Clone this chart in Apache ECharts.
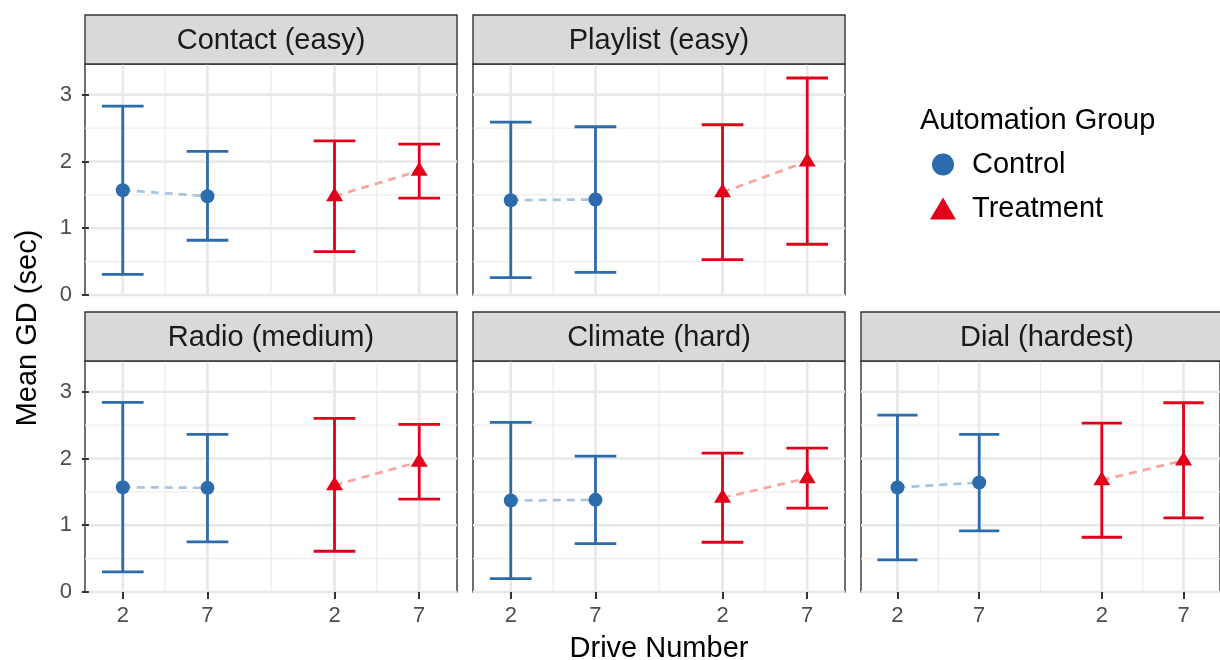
<!DOCTYPE html>
<html><head><meta charset="utf-8">
<script src="https://cdn.jsdelivr.net/npm/echarts@6/dist/echarts.min.js"></script>
<style>html,body{margin:0;padding:0;background:#fff}#chart{width:1220px;height:660px}</style>
</head><body><div id="chart"></div>
<script>
// ---------------- data ----------------
const facets = ['Contact (easy)', 'Playlist (easy)', 'Radio (medium)', 'Climate (hard)', 'Dial (hardest)'];
const groups = ['Control', 'Treatment'];
const drives = [2, 7];
const groupShift = [0, 12.5];          // where each group's block sits on the drive axis
const xTickLabels = ['2', '7', '2', '7'];
const yTicks = [0, 1, 2, 3];

const controlMean = [[1.57, 1.48], [1.42, 1.43], [1.57, 1.56], [1.37, 1.38], [1.565, 1.64]];
const controlLow  = [[0.31, 0.82], [0.26, 0.34], [0.30, 0.75], [0.20, 0.725], [0.48, 0.915]];
const controlHigh = [[2.83, 2.15], [2.59, 2.52], [2.84, 2.36], [2.54, 2.035], [2.65, 2.36]];
const treatMean   = [[1.48, 1.86], [1.54, 2.00], [1.60, 1.95], [1.41, 1.705], [1.675, 1.97]];
const treatLow    = [[0.65, 1.45], [0.53, 0.76], [0.61, 1.39], [0.745, 1.255], [0.82, 1.11]];
const treatHigh   = [[2.31, 2.26], [2.55, 3.25], [2.60, 2.51], [2.08, 2.155], [2.53, 2.835]];

// ---------------- layout / style ----------------
const FONT = "'Liberation Sans', Arial, Helvetica, sans-serif";
const BLUE = '#2C6BAC', RED = '#E2001A';
const LIGHT = ['#A9C4E1', '#F7A59D'];
const COLORS = [BLUE, RED];
const panelPos = [[0, 0], [1, 0], [0, 1], [1, 1], [2, 1]]; // [col,row]
const colLeft = [85, 473, 861], stripTop = [15, 312];
const panelW = 372, stripH = 49, panelH = 231;
const X_MIN = -0.23, X_MAX = 21.73, Y_MIN = 0, Y_MAX = 3.46;
const CAP_HALF = 1.23;

const means = [controlMean, treatMean], lows = [controlLow, treatLow], highs = [controlHigh, treatHigh];
const xTickPos = [];
groups.forEach((g, gi) => drives.forEach(d => xTickPos.push(d + groupShift[gi])));
const xMinor = [];
for (let i = 1; i < xTickPos.length; i++) xMinor.push((xTickPos[i - 1] + xTickPos[i]) / 2);
const yMinor = [];
for (let i = 1; i < yTicks.length; i++) yMinor.push((yTicks[i - 1] + yTicks[i]) / 2);

const grids = [], xAxes = [], yAxes = [], series = [], graphics = [];

facets.forEach((name, fi) => {
  const [c, r] = panelPos[fi];
  const left = colLeft[c], top = stripTop[r] + stripH;
  grids.push({left: left, top: top, width: panelW, height: panelH, show: true,
    borderColor: '#333333', borderWidth: 1.4, backgroundColor: '#fff', containLabel: false});
  const showX = r === 1, showY = c === 0;
  xAxes.push({type: 'value', gridIndex: fi, min: X_MIN, max: X_MAX,
    axisLine: {show: false}, splitLine: {show: false},
    axisTick: {show: showX, customValues: xTickPos, length: 7, lineStyle: {color: '#333', width: 2}},
    axisLabel: {show: showX, customValues: xTickPos, margin: 13, fontSize: 22, color: '#4D4D4D', fontFamily: FONT,
      formatter: v => { const k = xTickPos.findIndex(p => Math.abs(p - v) < 1e-6); return k >= 0 ? xTickLabels[k] : ''; }}
  });
  yAxes.push({type: 'value', gridIndex: fi, min: Y_MIN, max: Y_MAX,
    axisLine: {show: false}, splitLine: {show: false},
    axisTick: {show: showY, customValues: yTicks, length: 7, lineStyle: {color: '#333', width: 2}},
    axisLabel: {show: showY, customValues: yTicks, margin: 13, fontSize: 22, color: '#4D4D4D', fontFamily: FONT}
  });
  // strip
  graphics.push({type: 'rect', z: 10, shape: {x: left, y: stripTop[r], width: panelW, height: stripH},
    style: {fill: '#D9D9D9', stroke: '#333333', lineWidth: 1.4}});
  graphics.push({type: 'text', z: 11, x: left + panelW / 2, y: stripTop[r] + stripH / 2 + 1,
    style: {text: name, fill: '#1A1A1A', font: '29px ' + FONT, align: 'center', verticalAlign: 'middle'}});

  // grid lines
  series.push({type: 'custom', xAxisIndex: fi, yAxisIndex: fi, z: 0, silent: true, data: [[0, 0]],
    renderItem: (params, api) => {
      const cs = params.coordSys, ch = [];
      const vline = (v, w, col) => { const px = api.coord([v, Y_MIN])[0];
        ch.push({type: 'line', shape: {x1: px, y1: cs.y, x2: px, y2: cs.y + cs.height}, style: {stroke: col, lineWidth: w}}); };
      const hline = (v, w, col) => { const py = api.coord([X_MIN, v])[1];
        ch.push({type: 'line', shape: {x1: cs.x, y1: py, x2: cs.x + cs.width, y2: py}, style: {stroke: col, lineWidth: w}}); };
      xMinor.forEach(v => vline(v, 1.3, '#EDEDED')); yMinor.forEach(v => hline(v, 1.3, '#EDEDED'));
      xTickPos.forEach(v => vline(v, 2.6, '#E8E8E8')); yTicks.forEach(v => hline(v, 2.6, '#E8E8E8'));
      return {type: 'group', children: ch};
    }});
});

// marks
facets.forEach((name, fi) => {
  groups.forEach((g, gi) => {
    const pts = drives.map((d, di) => [d + groupShift[gi], means[gi][fi][di]]);
    const bars = drives.map((d, di) => [d + groupShift[gi], lows[gi][fi][di], highs[gi][fi][di]]);
    series.push({type: 'scatter', name: g, xAxisIndex: fi, yAxisIndex: fi, z: 4, data: pts,
      symbol: gi === 0 ? 'circle' : 'triangle', symbolSize: gi === 0 ? 14 : [17, 14],
      symbolOffset: gi === 0 ? [0, 0] : [0, -2],
      itemStyle: {color: COLORS[gi], opacity: 1}});
    series.push({type: 'line', name: g, xAxisIndex: fi, yAxisIndex: fi, z: 2, data: pts, showSymbol: false, symbol: 'none',
      lineStyle: {color: LIGHT[gi], width: 2.7, type: [8, 6]}, itemStyle: {color: LIGHT[gi]}});
    series.push({type: 'custom', name: g, xAxisIndex: fi, yAxisIndex: fi, z: 3, data: bars,
      encode: {x: 0, y: [1, 2]},
      itemStyle: {color: COLORS[gi]},
      renderItem: (params, api) => {
        const x = api.value(0), lo = api.value(1), hi = api.value(2);
        const pl = api.coord([x, lo]), ph = api.coord([x, hi]);
        const hw = api.size([CAP_HALF, 0])[0];
        const st = {stroke: COLORS[gi], lineWidth: 2.8, fill: null};
        return {type: 'group', children: [
          {type: 'line', shape: {x1: pl[0], y1: pl[1], x2: ph[0], y2: ph[1]}, style: st},
          {type: 'line', shape: {x1: ph[0] - hw, y1: ph[1], x2: ph[0] + hw, y2: ph[1]}, style: st},
          {type: 'line', shape: {x1: pl[0] - hw, y1: pl[1], x2: pl[0] + hw, y2: pl[1]}, style: st}
        ]};
      }});
  });
});

// axis titles & legend title
graphics.push({type: 'text', x: 28, y: 328, rotation: Math.PI / 2,
  style: {text: 'Mean GD (sec)', fill: '#000', font: '29px ' + FONT, align: 'center', verticalAlign: 'middle'}});
graphics.push({type: 'text', x: 659, y: 649,
  style: {text: 'Drive Number', fill: '#000', font: '29px ' + FONT, align: 'center', verticalAlign: 'middle'}});
graphics.push({type: 'text', x: 920, y: 121,
  style: {text: 'Automation Group', fill: '#000', font: '29px ' + FONT, align: 'left', verticalAlign: 'middle'}});

const chart = echarts.init(document.getElementById('chart'), null, {renderer: 'canvas'});
chart.setOption({
  animation: false,
  backgroundColor: '#fff',
  grid: grids, xAxis: xAxes, yAxis: yAxes, series: series, graphic: graphics,
  legend: {orient: 'vertical', left: 925, top: 145, itemWidth: 26, itemHeight: 22, itemGap: 15,
    data: [{name: 'Control', icon: 'circle', itemStyle: {color: BLUE}},
           {name: 'Treatment', icon: 'triangle', itemStyle: {color: RED}}],
    textStyle: {fontSize: 29, color: '#000', fontFamily: FONT, padding: [0, 0, 0, 11]}}
});
</script></body></html>
